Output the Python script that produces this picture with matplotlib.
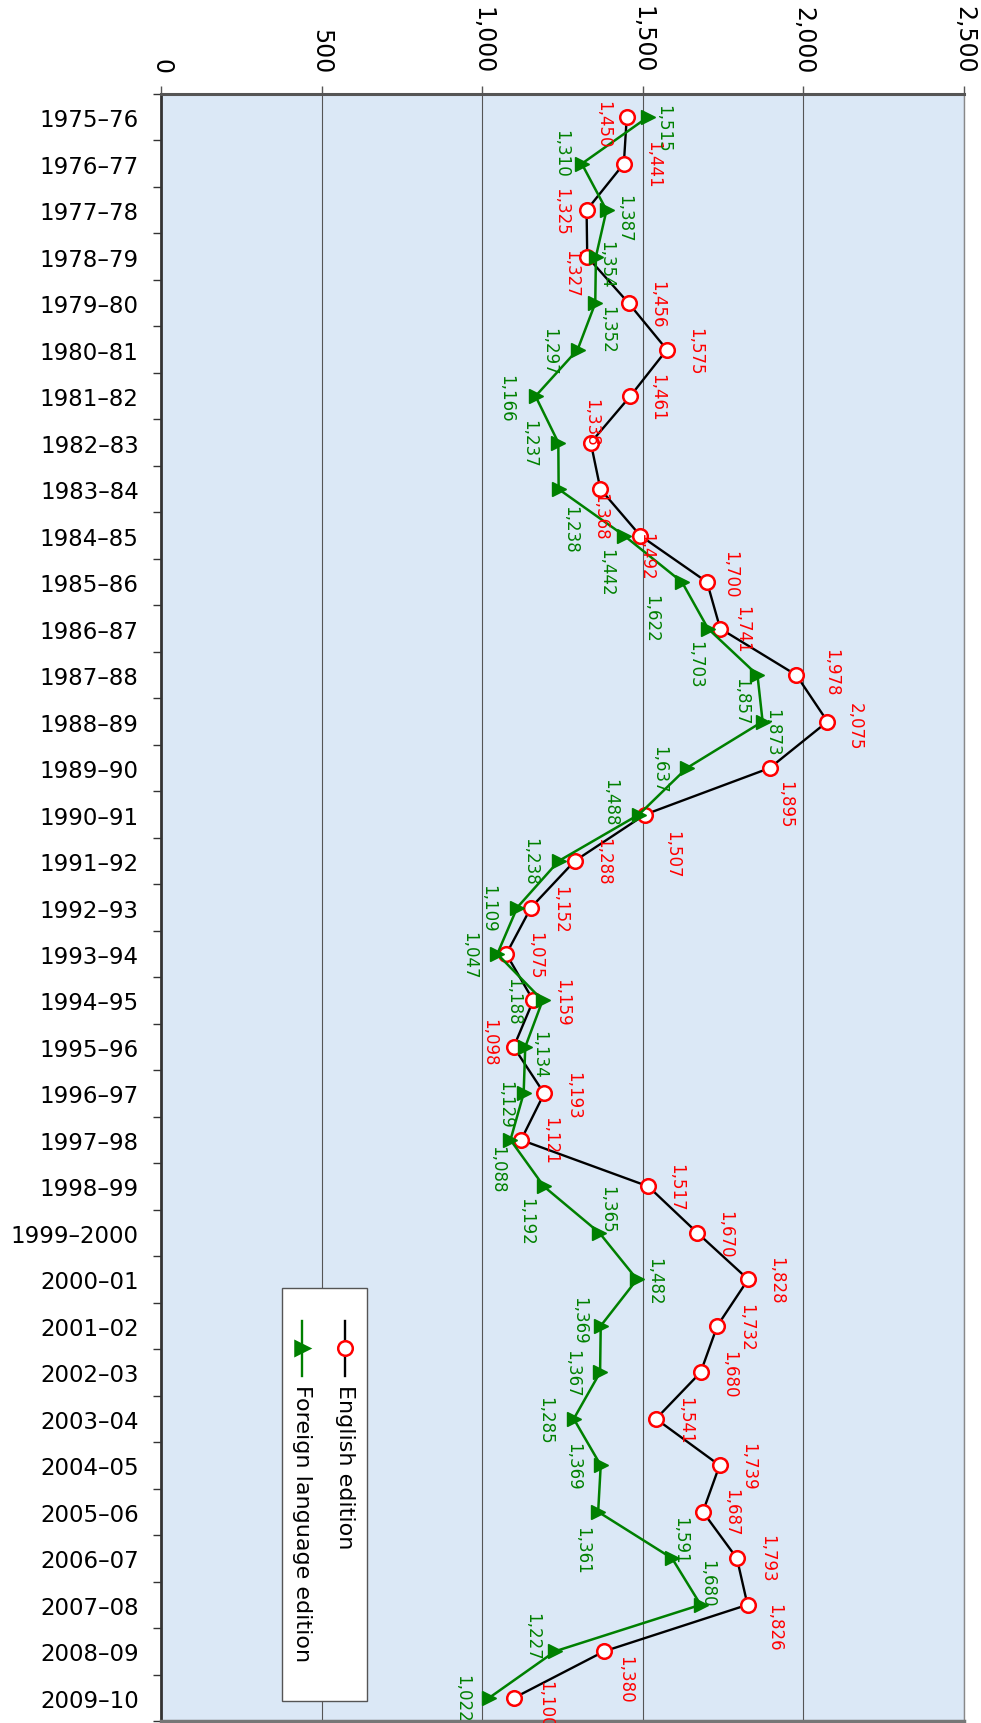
import numpy as np
import matplotlib.pyplot as plt
from matplotlib.lines import Line2D
from matplotlib.patches import Rectangle
from matplotlib.ticker import FuncFormatter

seasons = ["1975–76", "1976–77", "1977–78", "1978–79", "1979–80", "1980–81",
           "1981–82", "1982–83", "1983–84", "1984–85", "1985–86", "1986–87",
           "1987–88", "1988–89", "1989–90", "1990–91", "1991–92", "1992–93",
           "1993–94", "1994–95", "1995–96", "1996–97", "1997–98", "1998–99",
           "1999–2000", "2000–01", "2001–02", "2002–03", "2003–04", "2004–05",
           "2005–06", "2006–07", "2007–08", "2008–09", "2009–10"]

english = [1450, 1441, 1325, 1327, 1456, 1575, 1461, 1338, 1368, 1492,
           1700, 1741, 1978, 2075, 1895, 1507, 1288, 1152, 1075, 1159,
           1098, 1193, 1121, 1517, 1670, 1828, 1732, 1680, 1541, 1739,
           1687, 1793, 1826, 1380, 1100]

foreign = [1515, 1310, 1387, 1354, 1352, 1297, 1166, 1237, 1238, 1442,
           1622, 1703, 1857, 1873, 1637, 1488, 1238, 1109, 1047, 1188,
           1134, 1129, 1088, 1192, 1365, 1482, 1369, 1367, 1285, 1369,
           1361, 1591, 1680, 1227, 1022]

# label offsets in pixels (dx to the right, dy downwards)
eng_off = [(-24, 7), (29, 0), (-25, 1), (-16, 16), (28, 1), (28, 1), (27, 1),
           (0, -21), (0, 27), (6, 20), (23, -8), (22, 0), (35, -3), (27, 4),
           (15, 36), (27, 39), (28, 0), (29, 1), (29, 1), (29, 1), (-25, -5),
           (29, 1), (29, 0), (28, 0), (28, 1), (28, 0), (29, 1), (29, 1),
           (29, 1), (29, 0), (28, 0), (30, 0), (27, 22), (21, 28), (31, 6)]
for_off = [(16, 11), (-21, -11), (18, 8), (10, 7), (12, 26), (-28, 1), (-29, 2),
           (-29, 0), (11, 40), (-18, 36), (-31, 36), (-13, 35), (-16, 26), (10, 10),
           (-28, 1), (-29, -13), (-29, 0), (-29, 0), (-28, 1), (-29, 0), (14, 7),
           (-19, 10), (-13, 29), (-18, 34), (8, -24), (17, 1), (-22, -6), (-28, 0),
           (-29, 1), (-28, 0), (-16, 38), (8, -18), (7, -22), (-23, -15), (-27, 0)]

RED = "#ff0000"
GREEN = "#008000"

fig = plt.figure(figsize=(9.81, 17.24), dpi=100)
ax = fig.add_axes([161 / 981, 2 / 1724, 803 / 981, 1627 / 1724])
ax.set_facecolor("#dbe8f6")

pos = np.arange(len(seasons))

ax.plot(english, pos, color="black", lw=1.7, marker="o", ms=10.5,
        mfc="white", mec=RED, mew=1.8, zorder=3)
ax.plot(foreign, pos, color=GREEN, lw=1.8, marker=">", ms=10,
        mfc=GREEN, mec=GREEN, zorder=4)

for i, v in enumerate(english):
    dx, dy = eng_off[i]
    ax.annotate(f"{v:,}", xy=(v, i), xytext=(dx, -dy), textcoords="offset pixels",
                rotation=-90, ha="center", va="center", fontsize=12, color=RED,
                zorder=5)
for i, v in enumerate(foreign):
    dx, dy = for_off[i]
    ax.annotate(f"{v:,}", xy=(v, i), xytext=(dx, -dy), textcoords="offset pixels",
                rotation=-90, ha="center", va="center", fontsize=12, color=GREEN,
                zorder=5)

ax.set_xlim(0, 2500)
ax.set_ylim(len(seasons) - 0.5, -0.5)

ax.xaxis.tick_top()
ax.set_xticks(range(0, 2501, 500))
ax.xaxis.set_major_formatter(FuncFormatter(lambda v, p: f"{int(v):,}"))
ax.tick_params(axis="x", which="major", length=5.8, width=1, color="#555555",
               pad=9.4, labelsize=17, labelrotation=-90)

ax.set_yticks(pos)
ax.set_yticklabels(seasons)
ax.set_yticks(np.arange(-0.5, len(seasons), 1), minor=True)
ax.tick_params(axis="y", which="major", length=0, pad=16, labelsize=16.5)
ax.tick_params(axis="y", which="minor", length=5.8, width=1, color="#333333")

ax.grid(axis="x", color="#555555", lw=0.8)
ax.set_axisbelow(True)

ax.spines["top"].set_linewidth(2.2)
ax.spines["top"].set_color("#555555")
ax.spines["bottom"].set_linewidth(2.5)
ax.spines["bottom"].set_color("#777777")
ax.spines["left"].set_linewidth(2)
ax.spines["left"].set_color("#333333")
ax.spines["right"].set_linewidth(1)
ax.spines["right"].set_color("#888888")

# legend, drawn rotated like the rest of the chart
ax.add_patch(Rectangle((0.1507, 0.0123), 0.1058, 0.2538, transform=ax.transAxes,
                       facecolor="white", edgecolor="#555555", lw=1, zorder=6))
legend_items = [(0.2291, "English edition", "black", "o", "white", RED, 10.5),
                (0.1756, "Foreign language edition", GREEN, ">", GREEN, GREEN, 10)]
for x, label, lc, mk, mf, me, ms in legend_items:
    ax.add_line(Line2D([x, x], [0.2459, 0.2120], transform=ax.transAxes,
                       color=lc, lw=1.7, zorder=7))
    ax.add_line(Line2D([x], [0.2290], transform=ax.transAxes, marker=mk, ms=ms,
                       mfc=mf, mec=me, mew=1.8, ls="none", zorder=8))
    ax.text(x, 0.2071, label, transform=ax.transAxes, rotation=-90,
            ha="center", va="top", fontsize=16, color="black", zorder=8)

fig.savefig("out.png", dpi=100)
